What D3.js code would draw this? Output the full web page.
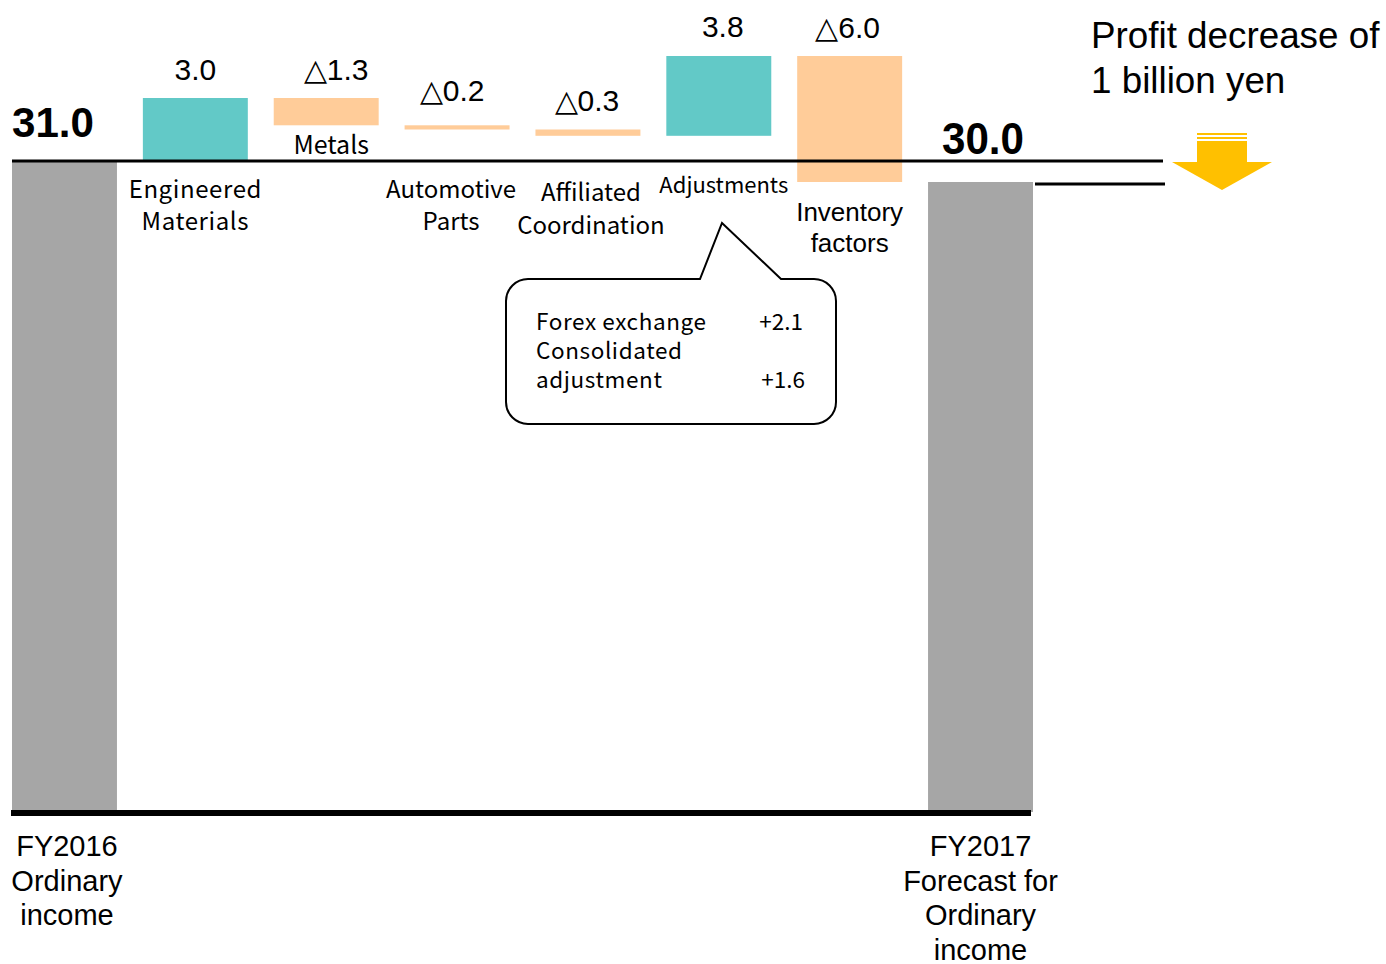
<!DOCTYPE html>
<html><head><meta charset="utf-8">
<script src="https://cdn.jsdelivr.net/npm/d3@7/dist/d3.min.js"></script>
<style>
html,body{margin:0;padding:0;background:#fff;}
svg{display:block;}
.jp{font-family:"Noto Sans CJK JP","Noto Sans",sans-serif;}
.ar{font-family:"Liberation Sans",Arial,sans-serif;}
</style></head>
<body>
<script>
// ---- data ----
const categories = ["FY2016 Ordinary income","Engineered Materials","Metals","Automotive Parts","Affiliated Coordination","Adjustments","Inventory factors","FY2017 Forecast for Ordinary income"];
const kinds = ["total","delta","delta","delta","delta","delta","delta","total"];
const values = [31.0, 3.0, -1.3, -0.2, -0.3, 3.8, -6.0, 30.0];
const valueLabels = ["31.0","3.0","△1.3","△0.2","△0.3","3.8","△6.0","30.0"];
const catLines = [["FY2016","Ordinary","income"],["Engineered","Materials"],["Metals"],["Automotive","Parts"],["Affiliated","Coordination"],["Adjustments"],["Inventory","factors"],["FY2017","Forecast for","Ordinary","income"]];
const calloutRows = [["Forex exchange","+2.1"],["Consolidated",""],["adjustment","+1.6"]];
const headline = ["Profit decrease of","1 billion yen"];

const W=1386,H=964;
const svg=d3.select("body").append("svg").attr("width",W).attr("height",H);

const x=d3.scaleBand().domain(categories).range([12,1033]).paddingInner(0.198).paddingOuter(0);
const y=d3.scaleLinear().domain([0,36]).range([812,56]);
const bw=x.bandwidth();

// compute waterfall
let run=0;
const bars=categories.map((c,i)=>{
  let y0,y1;
  if(kinds[i]==="total"){y0=0;y1=values[i];run=values[i];}
  else{y0=run;y1=run+values[i];run=y1;}
  return {c,i,lo:Math.min(y0,y1),hi:Math.max(y0,y1),kind:kinds[i],v:values[i]};
});
const color=d=>d.kind==="total"?"#A6A6A6":(d.v>=0?"#62C9C7":"#FFCC99");

svg.selectAll("rect.bar").data(bars).join("rect").attr("class","bar")
  .attr("x",d=>x(d.c)).attr("width",bw)
  .attr("y",d=>y(d.hi)).attr("height",d=>Math.max(y(d.lo)-y(d.hi),4))
  .attr("fill",color);

// reference lines
const startTop=y(values[0]), endTop=y(values[7]);
svg.append("line").attr("x1",12).attr("x2",1163).attr("y1",startTop).attr("y2",startTop).attr("stroke","#000").attr("stroke-width",3);
svg.append("line").attr("x1",1035).attr("x2",1165).attr("y1",endTop+2).attr("y2",endTop+2).attr("stroke","#000").attr("stroke-width",3);
svg.append("line").attr("x1",11).attr("x2",1031).attr("y1",y(0)+1).attr("y2",y(0)+1).attr("stroke","#000").attr("stroke-width",6);

// value labels
const cx=d=>x(d.c)+bw/2;
svg.append("text").attr("class","ar").attr("x",12).attr("y",startTop-24).attr("font-size",42).attr("font-weight","bold").attr("textLength",82).attr("lengthAdjust","spacingAndGlyphs").text(valueLabels[0]);
svg.append("text").attr("class","ar").attr("x",942).attr("y",endTop-28).attr("font-size",44).attr("font-weight","bold").attr("textLength",82).attr("lengthAdjust","spacingAndGlyphs").text(valueLabels[7]);
const valOff=[0,0,10,-5,-1,4,-2,0];
const valDy=[0,-18,-18,-24,-19,-19,-18,0];
svg.selectAll("text.val").data(bars.filter(d=>d.kind==="delta")).join("text").attr("class","val ar")
  .attr("x",d=>cx(d)+valOff[d.i]).attr("y",d=>y(d.hi)+valDy[d.i])
  .attr("text-anchor","middle").attr("font-size",30).text(d=>valueLabels[d.i]);

// category labels (layout for each)
const catLayout=[
  {font:"ar",size:29,top:856,lh:34.5,dx:2.5},
  {font:"jp",size:24,top:198,lh:32,dx:0},
  {font:"jp",size:25,top:154,lh:32,dx:5},
  {font:"jp",size:24,top:198,lh:32,dx:-6},
  {font:"jp",size:24,top:201,lh:33,dx:3},
  {font:"jp",size:22,top:193,lh:30,dx:5},
  {font:"ar",size:26,top:221,lh:31,dx:0},
  {font:"ar",size:29,top:856,lh:34.5,dx:0}
];
bars.forEach(d=>{
  const L=catLayout[d.i];
  const t=svg.append("text").attr("class",L.font).attr("font-size",L.size).attr("text-anchor","middle").attr("fill","#000")
    .attr("letter-spacing",(d.i===1)?0.6:0);
  catLines[d.i].forEach((s,k)=>{
    t.append("tspan").attr("x",cx(d)+L.dx).attr("y",L.top+k*L.lh).text(s);
  });
});

// callout
const cb={x0:506,y0:279,x1:836,y1:424,r:22};
const path=d3.path();
path.moveTo(cb.x0+cb.r,cb.y0);
path.lineTo(700,cb.y0);path.lineTo(722,223);path.lineTo(781,cb.y0);
path.lineTo(cb.x1-cb.r,cb.y0);
path.arcTo(cb.x1,cb.y0,cb.x1,cb.y0+cb.r,cb.r);
path.lineTo(cb.x1,cb.y1-cb.r);
path.arcTo(cb.x1,cb.y1,cb.x1-cb.r,cb.y1,cb.r);
path.lineTo(cb.x0+cb.r,cb.y1);
path.arcTo(cb.x0,cb.y1,cb.x0,cb.y1-cb.r,cb.r);
path.lineTo(cb.x0,cb.y0+cb.r);
path.arcTo(cb.x0,cb.y0,cb.x0+cb.r,cb.y0,cb.r);
path.closePath();
svg.append("path").attr("d",path.toString()).attr("fill","#fff").attr("stroke","#000").attr("stroke-width",2);
calloutRows.forEach((r,k)=>{
  svg.append("text").attr("class","jp").attr("x",536).attr("y",330+k*29).attr("font-size",22.5).attr("letter-spacing",0.6).text(r[0]);
  if(r[1]) svg.append("text").attr("class","jp").attr("x",803+(k===2?2:0)).attr("y",330+k*29).attr("font-size",22.5).attr("text-anchor","end").text(r[1]);
});

// headline
headline.forEach((s,k)=>{
  svg.append("text").attr("class","ar").attr("x",1091).attr("y",48+k*45).attr("font-size",36.8).text(s);
});

// arrow
const g=svg.append("g").attr("fill","#FFC000");
g.append("rect").attr("x",1197).attr("y",133).attr("width",50).attr("height",2);
g.append("rect").attr("x",1197).attr("y",137).attr("width",50).attr("height",2);
g.append("rect").attr("x",1197).attr("y",141).attr("width",50).attr("height",22);
g.append("path").attr("d","M1172,162 L1272,162 L1222,190 Z");
</script>
</body></html>
